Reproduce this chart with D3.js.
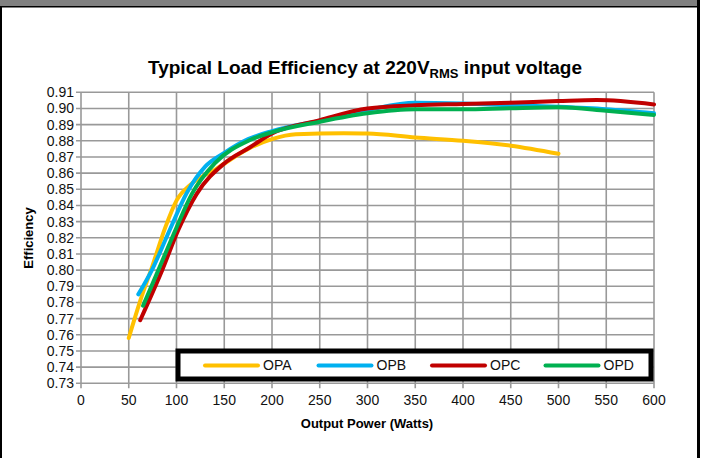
<!DOCTYPE html>
<html>
<head>
<meta charset="utf-8">
<script src="https://cdn.jsdelivr.net/npm/d3@7"></script>
<style>
  body { margin: 0; background: #fff; }
  svg { display: block; font-family: "Liberation Sans", Arial, sans-serif; }
</style>
</head>
<body>
<svg id="chart" width="704" height="458"></svg>
<script>
// series data (output power in watts, efficiency)
var powerA = [50, 62, 75, 88, 100, 115, 140, 175, 200, 225, 275, 300, 350, 400, 450, 500];
var effA   = [0.758, 0.781, 0.803, 0.826, 0.843, 0.853, 0.862, 0.875, 0.881, 0.884, 0.8846, 0.8845, 0.882, 0.880, 0.877, 0.872];

var powerB = [60, 75, 93, 111, 130, 150, 175, 200, 250, 300, 350, 400, 450, 500, 550, 600];
var effB   = [0.785, 0.801, 0.825, 0.848, 0.864, 0.8725, 0.881, 0.886, 0.8925, 0.899, 0.9035, 0.903, 0.902, 0.901, 0.8995, 0.897];

var powerC = [62, 85, 102, 121, 150, 177, 200, 250, 300, 350, 400, 450, 500, 540, 600];
var effC   = [0.769, 0.800, 0.825, 0.847, 0.866, 0.876, 0.8845, 0.8928, 0.900, 0.902, 0.9028, 0.9036, 0.9046, 0.9052, 0.9025];

var powerD = [65, 81, 99, 116, 140, 177, 200, 250, 300, 350, 400, 450, 500, 550, 600];
var effD   = [0.778, 0.800, 0.825, 0.847, 0.866, 0.8805, 0.8853, 0.8918, 0.897, 0.8995, 0.8995, 0.9002, 0.9007, 0.8986, 0.896];

var seriesNames  = ["OPA", "OPB", "OPC", "OPD"];
var seriesColors = ["#FFC000", "#00B0F0", "#C00000", "#00B050"];

var xTicks = d3.range(0, 601, 50);
var yTicks = d3.range(73, 92).map(function(d) { return d / 100; });

//
var svg = d3.select("#chart");

// frame: grey strip on top, black borders
svg.append("rect").attr("x", 0).attr("y", 0).attr("width", 700).attr("height", 6).attr("fill", "#808080");
svg.append("rect").attr("x", 0).attr("y", 6).attr("width", 700).attr("height", 1.5).attr("fill", "#000");
svg.append("rect").attr("x", 0).attr("y", 6).attr("width", 2).attr("height", 452).attr("fill", "#000");
svg.append("rect").attr("x", 697).attr("y", 0).attr("width", 3).attr("height", 458).attr("fill", "#000");

var x = d3.scaleLinear().domain([0, 600]).range([81, 654]);
var y = d3.scaleLinear().domain([0.73, 0.91]).range([383.3, 92.3]);

// grid
var grid = svg.append("g").attr("stroke", "#999").attr("stroke-width", 1.6);
xTicks.forEach(function(t) {
  grid.append("line").attr("x1", x(t)).attr("x2", x(t)).attr("y1", y(0.91)).attr("y2", y(0.73) + 5);
});
yTicks.forEach(function(t) {
  grid.append("line").attr("x1", x(0) - 5).attr("x2", x(600)).attr("y1", y(t)).attr("y2", y(t));
});

// tick labels
var lab = svg.append("g").attr("font-size", 14).attr("fill", "#111");
yTicks.forEach(function(t) {
  lab.append("text").attr("x", 74).attr("y", y(t)).attr("dy", "0.35em")
    .attr("text-anchor", "end").text(d3.format(".2f")(t));
});
xTicks.forEach(function(t) {
  lab.append("text").attr("x", x(t)).attr("y", 405)
    .attr("text-anchor", "middle").text(t);
});

// axis titles
svg.append("text").attr("x", 367).attr("y", 428).attr("text-anchor", "middle")
  .attr("font-size", 13).attr("font-weight", "bold").text("Output Power (Watts)");
svg.append("text").attr("transform", "translate(33,238) rotate(-90)").attr("text-anchor", "middle")
  .attr("font-size", 13).attr("font-weight", "bold").text("Efficiency");

// title with subscript
var title = svg.append("text").attr("x", 365).attr("y", 74).attr("text-anchor", "middle")
  .attr("font-size", 19).attr("font-weight", "bold");
title.append("tspan").text("Typical Load Efficiency at 220V");
title.append("tspan").attr("font-size", 13).attr("dy", 4).text("RMS");
title.append("tspan").attr("dy", -4).text(" input voltage");

// lines
var line = d3.line()
  .x(function(d) { return x(d[0]); })
  .y(function(d) { return y(d[1]); })
  .curve(d3.curveMonotoneX);

var allData = [
  d3.zip(powerA, effA),
  d3.zip(powerB, effB),
  d3.zip(powerC, effC),
  d3.zip(powerD, effD)
];
allData.forEach(function(pts, i) {
  svg.append("path").attr("d", line(pts)).attr("fill", "none")
    .attr("stroke", seriesColors[i]).attr("stroke-width", 4)
    .attr("stroke-linecap", "round").attr("stroke-linejoin", "round");
});

// legend
svg.append("rect").attr("x", 178).attr("y", 351).attr("width", 473).attr("height", 28)
  .attr("fill", "#fff").attr("stroke", "#000").attr("stroke-width", 5);
seriesNames.forEach(function(name, i) {
  var lx = 205 + i * 113.5;
  svg.append("line").attr("x1", lx).attr("x2", lx + 53).attr("y1", 365.5).attr("y2", 365.5)
    .attr("stroke", seriesColors[i]).attr("stroke-width", 4).attr("stroke-linecap", "round");
  svg.append("text").attr("x", lx + 58).attr("y", 365.5).attr("dy", "0.35em")
    .attr("font-size", 14).attr("fill", "#111").text(name);
});
</script>
</body>
</html>
